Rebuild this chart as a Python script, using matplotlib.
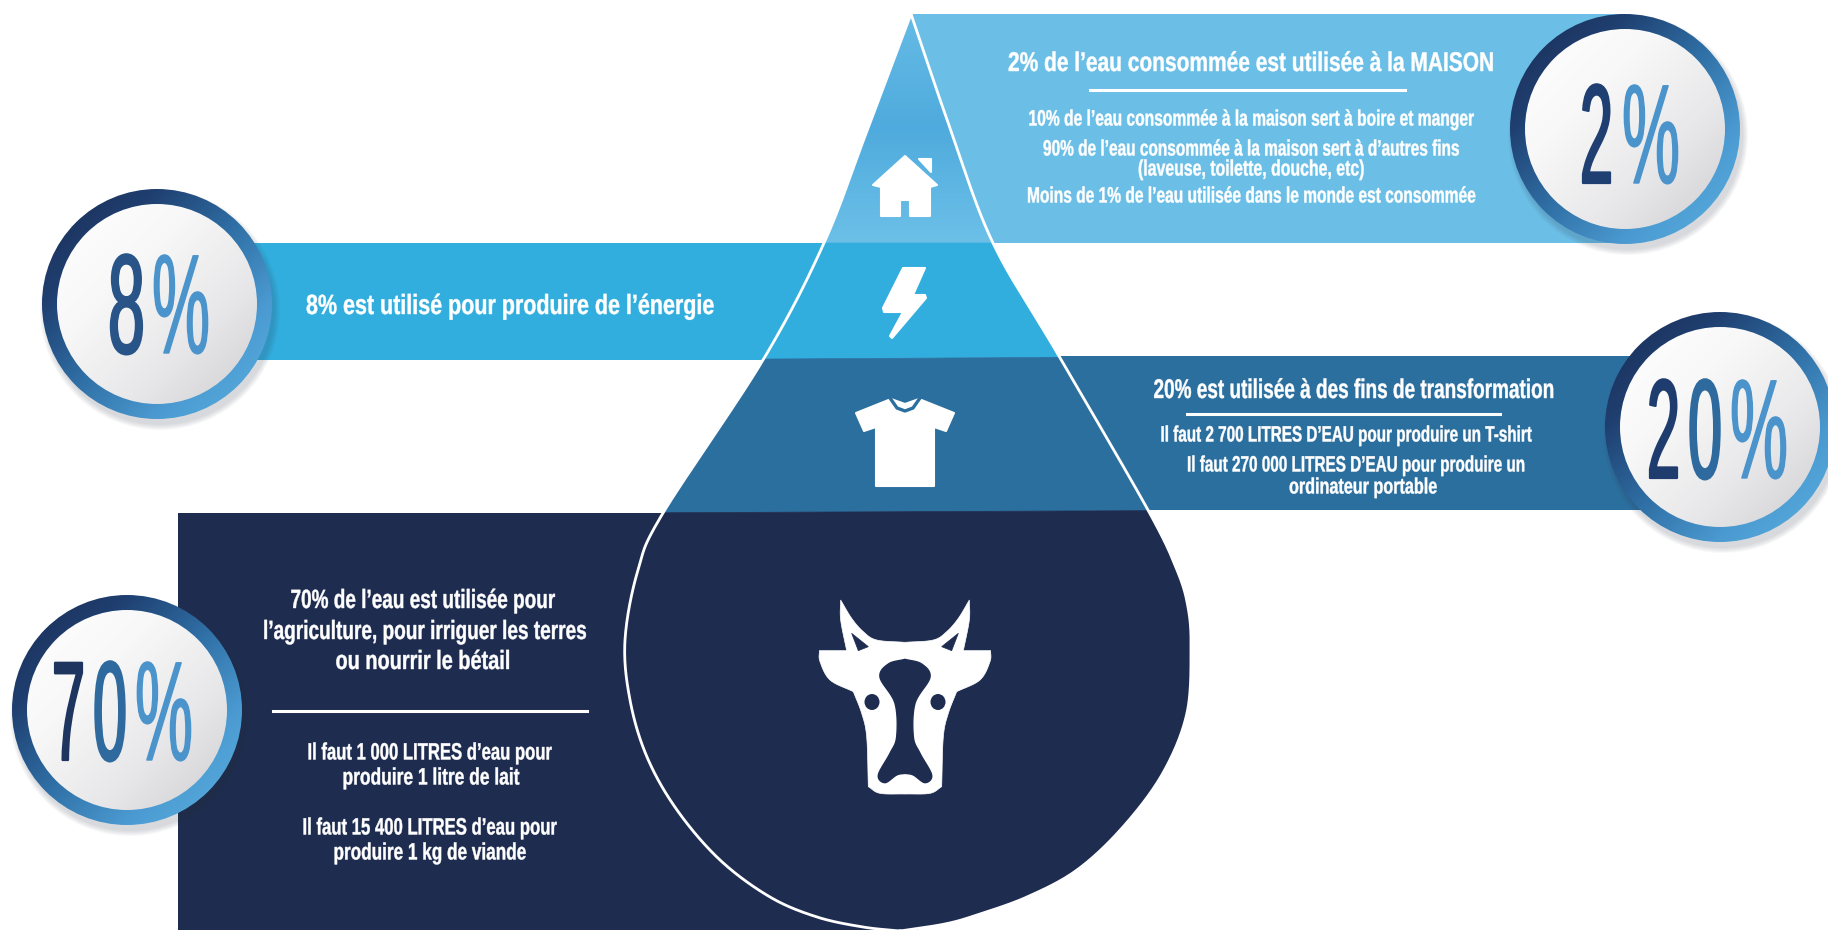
import numpy as np
import matplotlib
matplotlib.use("Agg")
import matplotlib.pyplot as plt
from matplotlib.colors import LinearSegmentedColormap
from matplotlib.patches import Circle, Ellipse, PathPatch, Polygon, Rectangle
from matplotlib.path import Path
from matplotlib.patheffects import AbstractPathEffect
from matplotlib.transforms import Affine2D

# data
shares = [2, 8, 20, 70]

home_title = "2% de l’eau consommée est utilisée à la MAISON"
home_lines = [
    "10% de l’eau consommée à la maison sert à boire et manger",
    "90% de l’eau consommée à la maison sert à d’autres fins",
    "(laveuse, toilette, douche, etc)",
    "Moins de 1% de l’eau utilisée dans le monde est consommée",
]
energy_title = "8% est utilisé pour produire de l’énergie"
transfo_title = "20% est utilisée à des fins de transformation"
transfo_lines = [
    "Il faut 2 700 LITRES D’EAU pour produire un T-shirt",
    "Il faut 270 000 LITRES D’EAU pour produire un",
    "ordinateur portable",
]
agri_title = [
    "70% de l’eau est utilisée pour",
    "l’agriculture, pour irriguer les terres",
    "ou nourrir le bétail",
]
agri_lines = [
    "Il faut 1 000 LITRES d’eau pour",
    "produire 1 litre de lait",
    "Il faut 15 400 LITRES d’eau pour",
    "produire 1 kg de viande",
]

# colours
SKY = "#6bbfe7"
CYAN = "#32aede"
STEEL = "#2b6f9f"
NAVY = "#1e2c50"

plt.rcParams["font.family"] = ["Liberation Sans Narrow", "Liberation Sans", "DejaVu Sans"]

fig = plt.figure(figsize=(18.28, 9.30), dpi=100)
ax = fig.add_axes([0, 0, 1, 1])
ax.axis("off")
renderer = fig.canvas.get_renderer()


class Squeeze(AbstractPathEffect):
    # rescales a text line around the x pixel cx and its baseline and thickens it a little,
    # the installed fonts have other proportions than the original
    def __init__(self, sx, cx, stroke=0.0, sy=1.0):
        super().__init__()
        self.sx = sx
        self.cx = cx
        self.stroke = stroke
        self.sy = sy

    def draw_path(self, renderer, gc, tpath, affine, rgbFace=None):
        m = affine.get_matrix().copy()
        m[0, 0] *= self.sx
        m[0, 1] *= self.sx
        m[1, 0] *= self.sy
        m[1, 1] *= self.sy
        m[0, 2] = self.cx + self.sx * (m[0, 2] - self.cx)
        gc0 = renderer.new_gc()
        gc0.copy_properties(gc)
        gc0.set_linewidth(self.stroke)
        gc0.set_foreground(rgbFace[:3])
        renderer.draw_path(gc0, tpath, Affine2D(m), rgbFace)
        gc0.restore()


def label(x, y, s, size, width, color="white", weight="bold", ha="center", va="center", stroke=0.3, sy=1.0):
    t = ax.text(x, y, s, fontsize=size, color=color, fontweight=weight, ha=ha, va=va, zorder=9)
    sx = width / t.get_window_extent(renderer).width
    t.set_path_effects([Squeeze(sx, x, stroke, sy)])
    return t


def smooth(pts, n=24):
    # catmull-rom through outline points, only used for shapes
    p = np.array(pts, dtype=float)
    p = np.vstack([2 * p[0] - p[1], p, 2 * p[-1] - p[-2]])
    out = []
    for i in range(1, len(p) - 2):
        for t in np.linspace(0, 1, n, endpoint=False):
            out.append(0.5 * (2 * p[i] + (p[i + 1] - p[i - 1]) * t
                              + (2 * p[i - 1] - 5 * p[i] + 4 * p[i + 1] - p[i + 2]) * t ** 2
                              + (3 * p[i] - p[i - 1] - 3 * p[i + 1] + p[i + 2]) * t ** 3))
    out.append(p[-2])
    return np.array(out)


def zoomed(pts, x0, y0):
    # cow outline was read at 3x from a crop starting at x0, y0
    return [(x0 + x / 3, y0 + y / 3) for x, y in pts]


def mirrored(pts, axis):
    return [tuple(p) for p in pts] + [(2 * axis - x, y) for x, y in reversed(pts)]


# bands behind the drop
ax.add_patch(Rectangle((911, 14), 714, 229, color=SKY, lw=0, zorder=1))
ax.add_patch(Rectangle((155, 243), 675, 117, color=CYAN, lw=0, zorder=1))
ax.add_patch(Rectangle((1040, 356), 680, 154, color=STEEL, lw=0, zorder=1))
ax.add_patch(Rectangle((178, 513), 740, 417, color=NAVY, lw=0, zorder=1))

# the drop
left_side = [(911, 14), (868, 128), (824, 243), (763, 360), (663, 513), (638, 570), (625, 640),
             (630, 700), (647, 757), (677, 810), (720, 860), (770, 897), (817, 917), (863, 927), (900, 931)]
right_side = [(911, 14), (950, 128), (993, 243), (1059, 356), (1148, 510), (1177, 570), (1188, 607),
              (1191, 647), (1187, 713), (1163, 773), (1123, 827), (1077, 870), (1027, 897), (977, 915),
              (945, 924), (900, 931)]
outline = np.vstack([smooth(left_side), smooth(right_side)[::-1]])
drop = Path(outline, closed=True)
drop_patch = PathPatch(drop, fc="none", ec="none", zorder=2)
ax.add_patch(drop_patch)

top_cmap = LinearSegmentedColormap.from_list("top", ["#66bbe6", "#4fabdd", "#6cc0e8"])
top_seg = ax.imshow(np.linspace(0, 1, 100).reshape(-1, 1), cmap=top_cmap, extent=(780, 1050, 243, 14),
                    aspect="auto", zorder=3, interpolation="bilinear")
top_seg.set_clip_path(drop_patch)

segments = [
    (CYAN, [(600, 243), (1300, 243), (1300, 356), (600, 360)]),
    (STEEL, [(600, 360), (1300, 356), (1300, 510), (600, 513)]),
    (NAVY, [(600, 513), (1300, 510), (1300, 940), (600, 940)]),
]
for col, corners in segments:
    seg = Polygon(corners, closed=True, fc=col, ec=col, lw=0.5, zorder=3)
    ax.add_patch(seg)
    seg.set_clip_path(drop_patch)

ax.plot(outline[:, 0], outline[:, 1], color="white", lw=2, zorder=4)

# icons
house = [(905, 156), (937, 185), (930, 187), (930, 216), (910, 216), (910, 200), (900, 200),
         (900, 216), (881, 216), (881, 187), (873, 185)]
chimney = [(919, 159), (931, 159), (931, 172)]
bolt = [(903, 268), (925, 268), (913, 295), (925, 295), (926, 298), (892, 338), (890, 336),
        (903, 312), (884, 312), (883, 308)]
shirt = [(891, 399), (905, 404), (919, 399), (954, 413), (946, 431), (934, 427),
         (934, 486), (876, 486), (876, 427), (864, 431), (856, 413)]
collar = [(890, 398), (897, 408), (905, 411), (913, 408), (920, 398)]
for shape in (house, chimney, bolt, shirt):
    ax.add_patch(Polygon(shape, closed=True, fc="white", ec="white", lw=1.5, joinstyle="round", zorder=5))
ax.plot([p[0] for p in collar], [p[1] for p in collar], color=STEEL, lw=2.4, zorder=6)

cow_half = np.vstack([
    smooth([(315, 157), (230, 150), (190, 125), (155, 85), (122, 30)], 10),
    smooth([(122, 30), (122, 90), (140, 182)], 10),
    smooth([(58, 182), (60, 215), (90, 270), (160, 305)], 10),
    smooth([(160, 305), (185, 370), (200, 440), (205, 590)], 10),
    smooth([(205, 590), (240, 610), (315, 612)], 10),
])
cow = [(2 * 315 - x, y) for x, y in cow_half[::-1]] + [tuple(p) for p in cow_half]
ax.add_patch(Polygon(zoomed(cow, 800, 590), closed=True, fc="white", ec="white", lw=0.5, zorder=5))
blaze_half = smooth([(315, 208), (265, 222), (240, 262), (285, 340), (290, 440), (270, 490),
                     (235, 555), (255, 578), (290, 555), (315, 550)], 10)
ax.add_patch(Polygon(zoomed(mirrored([tuple(p) for p in blaze_half], 315), 800, 590), closed=True,
                     fc=NAVY, ec=NAVY, lw=1, zorder=6))
for tri in ([(155, 130), (205, 170), (175, 182)], [(475, 130), (425, 170), (455, 182)]):
    ax.add_patch(Polygon(zoomed(tri, 800, 590), closed=True, fc=NAVY, ec=NAVY, lw=0.5, zorder=6))
for ex in (872, 938):
    ax.add_patch(Ellipse((ex, 702), 15, 16, fc=NAVY, ec="none", zorder=6))

# percent badges
ring_cmap = LinearSegmentedColormap.from_list("ring", ["#1c2b52", "#1f3f70", "#2f6fa5", "#4b9bd2", "#5cb2e0"])
face_cmap = LinearSegmentedColormap.from_list("face", ["#ffffff", "#f8f8f8", "#e8e8ea", "#cfcfd3"])
yy, xx = np.mgrid[0:1:200j, 0:1:200j]
diag = (xx + yy) / 2

badges = [
    # cx, cy, left and width of each digit, percent left, percent width, baseline, first digit colour
    (1625, 129, [(1580, 33)], 1622, 58, 183, "#1f3f72"),
    (157, 304, [(108, 37)], 152, 58, 353, "#285488"),
    (1720, 427, [(1647, 33), (1688, 34)], 1730, 58, 478, "#1f3c6e"),
    (127, 710, [(52, 33), (93, 34)], 135, 58, 760, "#1e3560"),
]
R_OUT, R_IN = 115, 100
BADGE_SIZE = 55
BADGE_SY = 1.85
for share, (cx, cy, digits, px, pw, base, first) in zip(shares, badges):
    for k in range(6):
        ax.add_patch(Circle((cx + 3, cy + 6), R_OUT + 5 - k, fc="#303848", ec="none", alpha=0.03, zorder=6.5))
    ring = ax.imshow(diag, cmap=ring_cmap, extent=(cx - R_OUT, cx + R_OUT, cy + R_OUT, cy - R_OUT),
                     aspect="auto", zorder=7, interpolation="bilinear")
    ring.set_clip_path(Circle((cx, cy), R_OUT, transform=ax.transData))
    face = ax.imshow(diag, cmap=face_cmap, extent=(cx - R_IN, cx + R_IN, cy + R_IN, cy - R_IN),
                     aspect="auto", zorder=8, interpolation="bilinear")
    face.set_clip_path(Circle((cx, cy), R_IN, transform=ax.transData))
    for i, (ch, (dx, dw)) in enumerate(zip(str(share), digits)):
        col = first if i == 0 else "#2f6a9e"
        label(dx, base, ch, BADGE_SIZE, dw, color=col, weight="normal", ha="left", va="baseline",
              stroke=1.6, sy=BADGE_SY)
    label(px, base, "%", BADGE_SIZE, pw, color="#4a93cb", weight="normal", ha="left", va="baseline",
          stroke=1.0, sy=BADGE_SY)

ax.set_xlim(0, 1828)
ax.set_ylim(930, 0)

# text blocks
label(1251, 64, home_title, 19.5, 486)
ax.plot([1090, 1405], [90, 90], color="white", lw=2.2, zorder=9)
for (cx, cy, w), s in zip([(1251, 120, 445), (1251, 150, 416), (1251, 170, 226), (1251, 197, 448)], home_lines):
    label(cx, cy, s, 16, w)

label(510, 307, energy_title, 20, 408)

label(1354, 391, transfo_title, 19.5, 401)
ax.plot([1187, 1500], [414, 414], color="white", lw=2.2, zorder=9)
for (cx, cy, w), s in zip([(1346, 436, 371), (1356, 466, 338), (1363, 488, 148)], transfo_lines):
    label(cx, cy, s, 16, w)

for (cx, cy, w), s in zip([(423, 601, 265), (425, 632, 324), (423, 662, 175)], agri_title):
    label(cx, cy, s, 19, w)
ax.plot([273, 587], [711, 711], color="white", lw=2.2, zorder=9)
for (cx, cy, w), s in zip([(430, 753, 245), (431, 778, 177), (430, 828, 255), (430, 853, 193)], agri_lines):
    label(cx, cy, s, 17, w)

fig.savefig("out.png", dpi=100, facecolor="white")
